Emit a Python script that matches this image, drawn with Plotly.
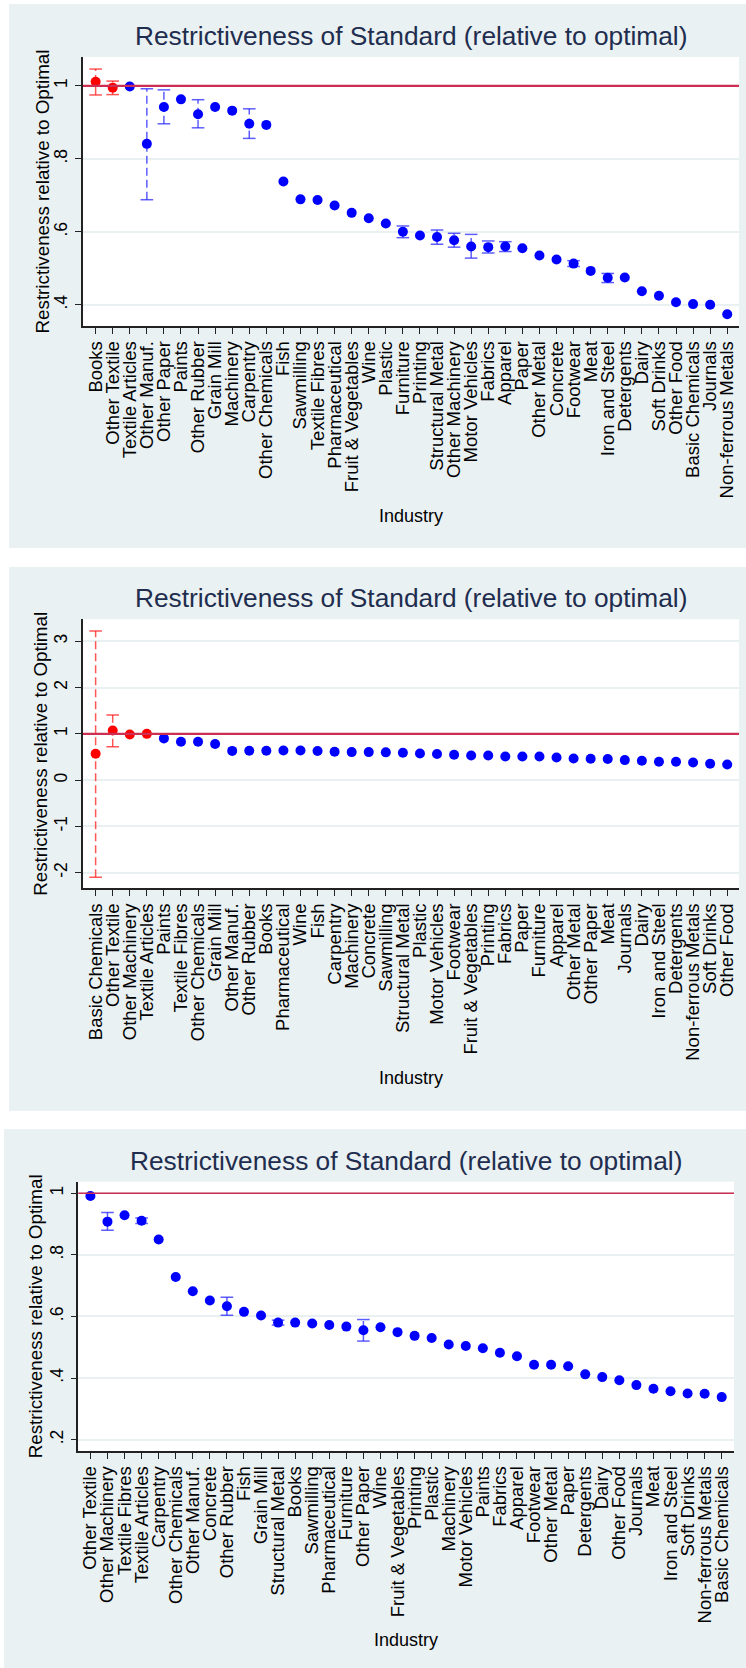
import plotly.graph_objects as go

W, H = 746, 1668

TITLE = "Restrictiveness of Standard (relative to optimal)"
Y_TITLE = "Restrictiveness relative to Optimal"
X_TITLE = "Industry"

# ---------------- Panel 1 ----------------
p1_industry = [
    "Books", "Other Textile", "Textile Articles", "Other Manuf.", "Other Paper",
    "Paints", "Other Rubber", "Grain Mill", "Machinery", "Carpentry",
    "Other Chemicals", "Fish", "Sawmilling", "Textile Fibres", "Pharmaceutical",
    "Fruit & Vegetables", "Wine", "Plastic", "Furniture", "Printing",
    "Structural Metal", "Other Machinery", "Motor Vehicles", "Fabrics", "Apparel",
    "Paper", "Other Metal", "Concrete", "Footwear", "Meat",
    "Iron and Steel", "Detergents", "Dairy", "Soft Drinks", "Other Food",
    "Basic Chemicals", "Journals", "Non-ferrous Metals",
]
p1_value = [
    1.011, 0.995, 0.998, 0.841, 0.942,
    0.963, 0.922, 0.942, 0.932, 0.896,
    0.893, 0.738, 0.689, 0.687, 0.672,
    0.652, 0.637, 0.623, 0.600, 0.590,
    0.586, 0.577, 0.560, 0.558, 0.560,
    0.555, 0.535, 0.524, 0.513, 0.493,
    0.474, 0.475, 0.437, 0.425, 0.407,
    0.402, 0.400, 0.374,
]
p1_ci_low = [
    0.975, 0.976, None, 0.688, 0.896,
    None, 0.885, None, None, 0.856,
    None, None, None, None, None,
    None, None, None, 0.584, None,
    0.566, 0.558, 0.528, 0.542, 0.546,
    None, None, None, 0.505, None,
    0.461, None, None, None, None,
    None, None, None,
]
p1_ci_high = [
    1.046, 1.013, None, 0.992, 0.989,
    None, 0.962, None, None, 0.937,
    None, None, None, None, None,
    None, None, None, 0.616, None,
    0.605, 0.596, 0.593, 0.575, 0.573,
    None, None, None, 0.521, None,
    0.486, None, None, None, None,
    None, None, None,
]
p1_highlight = ["Books", "Other Textile"]

# ---------------- Panel 2 ----------------
p2_industry = [
    "Basic Chemicals", "Other Textile", "Other Machinery", "Textile Articles", "Paints",
    "Textile Fibres", "Other Chemicals", "Grain Mill", "Other Manuf.", "Other Rubber",
    "Books", "Pharmaceutical", "Wine", "Fish", "Carpentry",
    "Machinery", "Concrete", "Sawmilling", "Structural Metal", "Plastic",
    "Motor Vehicles", "Footwear", "Fruit & Vegetables", "Printing", "Fabrics",
    "Paper", "Furniture", "Apparel", "Other Metal", "Other Paper",
    "Meat", "Journals", "Dairy", "Iron and Steel", "Detergents",
    "Non-ferrous Metals", "Soft Drinks", "Other Food",
]
p2_value = [
    0.569, 1.071, 0.985, 1.000, 0.902,
    0.829, 0.830, 0.779, 0.632, 0.635,
    0.635, 0.640, 0.640, 0.628, 0.613,
    0.606, 0.606, 0.600, 0.592, 0.577,
    0.563, 0.548, 0.534, 0.534, 0.512,
    0.512, 0.510, 0.490, 0.469, 0.462,
    0.455, 0.433, 0.419, 0.397, 0.397,
    0.382, 0.354, 0.339,
]
p2_ci_low = [-2.10, 0.72] + [None] * 36
p2_ci_high = [3.225, 1.407] + [None] * 36
p2_highlight = ["Basic Chemicals", "Other Textile", "Other Machinery", "Textile Articles"]

# ---------------- Panel 3 ----------------
p3_industry = [
    "Other Textile", "Other Machinery", "Textile Fibres", "Textile Articles", "Carpentry",
    "Other Chemicals", "Other Manuf.", "Concrete", "Other Rubber", "Fish",
    "Grain Mill", "Structural Metal", "Books", "Sawmilling", "Pharmaceutical",
    "Furniture", "Other Paper", "Wine", "Fruit & Vegetables", "Printing",
    "Plastic", "Machinery", "Motor Vehicles", "Paints", "Fabrics",
    "Apparel", "Footwear", "Other Metal", "Paper", "Detergents",
    "Dairy", "Other Food", "Journals", "Meat", "Iron and Steel",
    "Soft Drinks", "Non-ferrous Metals", "Basic Chemicals",
]
p3_value = [
    0.991, 0.908, 0.929, 0.911, 0.850,
    0.728, 0.682, 0.652, 0.633, 0.615,
    0.603, 0.580, 0.580, 0.577, 0.572,
    0.567, 0.555, 0.565, 0.549, 0.537,
    0.530, 0.509, 0.504, 0.497, 0.482,
    0.471, 0.443, 0.443, 0.438, 0.412,
    0.403, 0.393, 0.377, 0.365, 0.357,
    0.350, 0.349, 0.338,
]
p3_ci_low = [
    None, 0.880, None, 0.902, None,
    None, None, None, 0.604, None,
    None, 0.572, None, None, None,
    None, 0.520, None, None, None,
] + [None] * 18
p3_ci_high = [
    None, 0.938, None, 0.920, None,
    None, None, None, 0.662, None,
    None, 0.588, None, None, None,
    None, 0.590, None, None, None,
] + [None] * 18
p3_highlight = []

# y-axis ticks
p1_ticks = [0.4, 0.6, 0.8, 1.0]
p1_ticktext = [".4", ".6", ".8", "1"]
p2_ticks = [-2, -1, 0, 1, 2, 3]
p2_ticktext = ["-2", "-1", "0", "1", "2", "3"]
p3_ticks = [0.2, 0.4, 0.6, 0.8, 1.0]
p3_ticktext = [".2", ".4", ".6", ".8", "1"]

OPTIMAL = 1.0

# ---------------- styling ----------------
FONT = "Liberation Sans, Arial, Helvetica, sans-serif"
BG = "#eaf1f3"
GRID = "#e9f0f2"
BLUE = "#0000ff"
RED = "#ff0000"
BLUE_CI = "rgba(40,40,255,0.75)"
RED_CI = "rgba(255,30,30,0.75)"
REF_LINE = "#cc2f52"
AXIS = "#222222"
TITLE_COLOR = "#1f2d4f"


def fx(px):
    return px / W


def fy(py):
    return 1 - py / H


panels = [
    dict(ind=p1_industry, val=p1_value, lo=p1_ci_low, hi=p1_ci_high, hl=p1_highlight,
         ticks=p1_ticks, ticktext=p1_ticktext, yr=[0.342, 1.079], xr=[-0.74, 37.69],
         box=(83, 739, 57, 326), bg=(9, 746, 4, 548), ytitle_x=42, xtitle_y=516, refw=2.2),
    dict(ind=p2_industry, val=p2_value, lo=p2_ci_low, hi=p2_ci_high, hl=p2_highlight,
         ticks=p2_ticks, ticktext=p2_ticktext, yr=[-2.338, 3.476], xr=[-0.74, 37.69],
         box=(83, 739, 619.3, 888.3), bg=(9, 746, 567, 1111), ytitle_x=41, xtitle_y=1078, refw=2.2),
    dict(ind=p3_industry, val=p3_value, lo=p3_ci_low, hi=p3_ci_high, hl=p3_highlight,
         ticks=p3_ticks, ticktext=p3_ticktext, yr=[0.163, 1.0377], xr=[-0.71, 37.72],
         box=(78.3, 734, 1181.7, 1451), bg=(4, 746, 1129, 1668), ytitle_x=35, xtitle_y=1640, refw=1.6),
]

fig = go.Figure()
shapes = []
annotations = []
layout_axes = {}

for k, p in enumerate(panels, start=1):
    xa = "x" if k == 1 else f"x{k}"
    ya = "y" if k == 1 else f"y{k}"
    x0, x1, y0, y1 = p["box"]

    # panel background
    bx0, bx1, by0, by1 = p["bg"]
    shapes.append(dict(type="rect", xref="paper", yref="paper", layer="below",
                       x0=fx(bx0), x1=fx(bx1), y0=fy(by1), y1=fy(by0),
                       fillcolor=BG, line=dict(width=0)))
    # plot area
    shapes.append(dict(type="rect", xref="paper", yref="paper", layer="below",
                       x0=fx(x0), x1=fx(x1), y0=fy(y1), y1=fy(y0),
                       fillcolor="white", line=dict(width=0)))
    # reference line at the optimum
    shapes.append(dict(type="line", xref=f"{xa} domain", yref=ya,
                       x0=0, x1=1, y0=OPTIMAL, y1=OPTIMAL,
                       line=dict(color=REF_LINE, width=p["refw"])))

    # confidence intervals: dashed spikes with caps
    for hl_flag in (False, True):
        cx, cy, capx, capy = [], [], [], []
        for name, lo, hi in zip(p["ind"], p["lo"], p["hi"]):
            if lo is None or hi is None:
                continue
            if (name in p["hl"]) != hl_flag:
                continue
            cx += [name, name, None]
            cy += [lo, hi, None]
            capx += [name, name]
            capy += [lo, hi]
        if not cx:
            continue
        col = RED_CI if hl_flag else BLUE_CI
        fig.add_trace(go.Scatter(x=cx, y=cy, mode="lines", xaxis=xa, yaxis=ya,
                                 line=dict(color=col, width=1.5, dash="8px,4px"),
                                 hoverinfo="skip", showlegend=False))
        fig.add_trace(go.Scatter(x=capx, y=capy, mode="markers", xaxis=xa, yaxis=ya,
                                 marker=dict(symbol="line-ew", size=9,
                                             line=dict(color=col, width=1.5)),
                                 hoverinfo="skip", showlegend=False))

    # point estimates
    colors = [RED if name in p["hl"] else BLUE for name in p["ind"]]
    fig.add_trace(go.Scatter(x=p["ind"], y=p["val"], mode="markers", xaxis=xa, yaxis=ya,
                             marker=dict(color=colors, size=10, line=dict(width=0)),
                             showlegend=False))

    layout_axes["xaxis" if k == 1 else f"xaxis{k}"] = dict(
        domain=[fx(x0), fx(x1)], anchor=ya, type="category",
        categoryorder="array", categoryarray=p["ind"],
        range=p["xr"], tickmode="array", tickvals=p["ind"], ticktext=p["ind"],
        tickangle=-90, ticks="outside", ticklen=6, tickwidth=1, tickcolor=AXIS,
        showline=True, linecolor=AXIS, linewidth=1.5, showgrid=False, zeroline=False,
        tickfont=dict(family=FONT, size=18.5, color="black"), fixedrange=True,
    )
    layout_axes["yaxis" if k == 1 else f"yaxis{k}"] = dict(
        domain=[fy(y1), fy(y0)], anchor=xa, range=p["yr"],
        tickmode="array", tickvals=p["ticks"], ticktext=p["ticktext"],
        tickangle=-90, ticks="outside", ticklen=6, tickwidth=1, tickcolor=AXIS,
        ticklabelstandoff=1,
        showline=True, linecolor=AXIS, linewidth=1.5,
        showgrid=True, gridcolor=GRID, gridwidth=1.6, zeroline=False,
        tickfont=dict(family=FONT, size=17.5, color="black"), fixedrange=True,
    )

    # titles
    annotations.append(dict(text=TITLE, xref="paper", yref="paper",
                            x=fx((x0 + x1) / 2), y=fy(y0 - 4), xanchor="center", yanchor="bottom",
                            showarrow=False, font=dict(family=FONT, size=26.3, color=TITLE_COLOR)))
    annotations.append(dict(text=Y_TITLE, xref="paper", yref="paper", textangle=-90,
                            x=fx(p["ytitle_x"]), y=fy((y0 + y1) / 2), xanchor="center", yanchor="middle",
                            showarrow=False, font=dict(family=FONT, size=18.8, color="black")))
    annotations.append(dict(text=X_TITLE, xref="paper", yref="paper",
                            x=fx((x0 + x1) / 2), y=fy(p["xtitle_y"]), xanchor="center", yanchor="middle",
                            showarrow=False, font=dict(family=FONT, size=18, color="black")))

fig.update_layout(
    width=W, height=H, margin=dict(l=0, r=0, t=0, b=0),
    paper_bgcolor="white", plot_bgcolor="rgba(0,0,0,0)",
    showlegend=False, shapes=shapes, annotations=annotations,
    font=dict(family=FONT),
    **layout_axes,
)

fig.write_html("out.html")
